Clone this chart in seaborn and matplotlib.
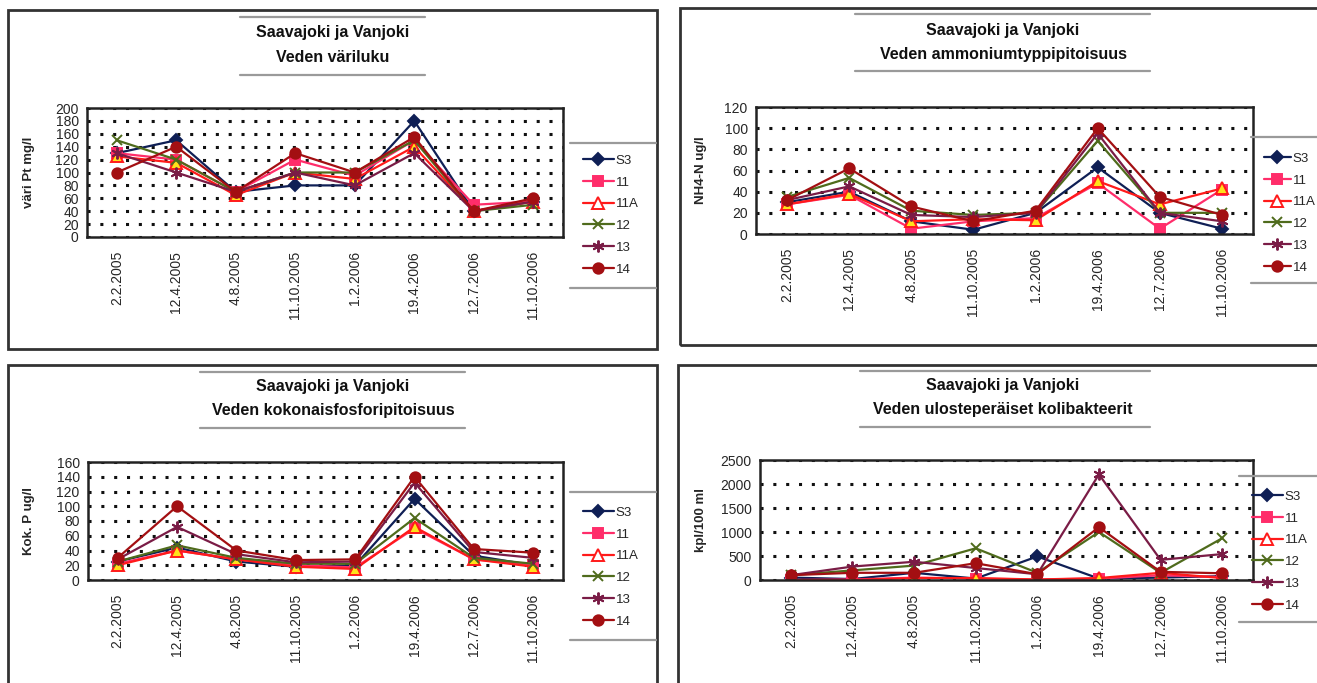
import numpy as np
import pandas as pd
import matplotlib
matplotlib.use("Agg")
import matplotlib.pyplot as plt
from matplotlib.lines import Line2D
from matplotlib.patches import Rectangle
import seaborn as sns

sns.set_theme(style="white")
plt.rcParams["font.family"] = ["Liberation Sans", "DejaVu Sans"]

# Sampling dates and stations
dates = ["2.2.2005", "12.4.2005", "4.8.2005", "11.10.2005",
         "1.2.2006", "19.4.2006", "12.7.2006", "11.10.2006"]
stations = ["S3", "11", "11A", "12", "13", "14"]

# Colour number (Pt mg/l)
vari_S3 = [130, 150, 70, 80, 80, 180, 40, 55]
vari_11 = [130, 120, 70, 120, 95, 150, 50, 55]
vari_11A = [125, 115, 65, 100, 90, 140, 40, 55]
vari_12 = [150, 120, 70, 100, 100, 150, 40, 50]
vari_13 = [130, 100, 70, 100, 80, 130, 40, 55]
vari_14 = [100, 140, 70, 130, 100, 155, 40, 60]

# Ammonium nitrogen (ug/l)
nh4_S3 = [30, 40, 12, 4, 20, 63, 20, 5]
nh4_11 = [28, 37, 5, 12, 15, 48, 5, 42]
nh4_11A = [28, 38, 12, 14, 13, 50, 28, 43]
nh4_12 = [35, 53, 22, 18, 20, 88, 20, 20]
nh4_13 = [32, 45, 18, 16, 20, 95, 20, 12]
nh4_14 = [32, 62, 26, 12, 22, 100, 35, 18]

# Total phosphorus (ug/l)
p_S3 = [25, 44, 25, 18, 20, 110, 33, 20]
p_11 = [22, 40, 28, 20, 17, 70, 28, 20]
p_11A = [20, 40, 28, 18, 15, 72, 28, 18]
p_12 = [25, 47, 30, 22, 22, 84, 30, 22]
p_13 = [28, 72, 35, 24, 25, 132, 38, 30]
p_14 = [30, 100, 40, 27, 28, 140, 42, 37]

# Faecal coliform bacteria (kpl/100 ml)
koli_S3 = [50, 20, 150, 30, 490, 30, 50, 80]
koli_11 = [0, 10, 50, 30, 10, 30, 100, 60]
koli_11A = [0, 0, 40, 40, 10, 40, 150, 40]
koli_12 = [100, 200, 300, 660, 150, 1000, 150, 870]
koli_13 = [100, 280, 380, 250, 120, 2200, 420, 540]
koli_14 = [100, 150, 150, 350, 120, 1100, 170, 140]

W, H = 1317, 683
fig = plt.figure(figsize=(W / 100, H / 100), dpi=100)
fig.patch.set_facecolor("white")

styles = {
    "S3": dict(color="#0f1f55", marker="D", mfc="#0f1f55", mec="#0f1f55", ms=6.5),
    "11": dict(color="#ff2d6a", marker="s", mfc="#ff2d6a", mec="#ff2d6a", ms=7),
    "11A": dict(color="#ff1a1a", marker="^", mfc="#ffe21a", mec="#ff1a1a", ms=8.5),
    "12": dict(color="#4f6b1c", marker="x", mfc="#4f6b1c", mec="#4f6b1c", ms=7.5),
    "13": dict(color="#7a1c46", marker=(6, 2, 0), mfc="#7a1c46", mec="#7a1c46", ms=8.5),
    "14": dict(color="#a30f12", marker="o", mfc="#a30f12", mec="#a30f12", ms=7.5),
}


def px_rect(l, t, r, b):
    return [l / W, 1 - b / H, (r - l) / W, (b - t) / H]


def hline(x0, x1, y, color="#9a9a9a", lw=1.6):
    fig.add_artist(Line2D([x0 / W, x1 / W], [1 - y / H, 1 - y / H],
                          transform=fig.transFigure, color=color, lw=lw))


def panel(box, axrect, title_xy, series, ymax, ystep, ylabel, ylab_x,
          title_lines, leg_xy, leg_lines, handle_len=2.4):
    l, t, r, b = box
    fig.add_artist(Rectangle((l / W, 1 - b / H), (r - l) / W, (b - t) / H,
                             transform=fig.transFigure, fill=False,
                             ec="#333333", lw=2))
    tx, ty = title_xy
    fig.text(tx / W, 1 - ty / H, "Saavajoki ja Vanjoki\n" + title_lines,
             ha="center", va="center", fontsize=11.5, fontweight="bold",
             linespacing=1.75, color="#111111")

    ax = fig.add_axes(px_rect(*axrect))
    x = np.arange(len(dates))
    frame = pd.DataFrame({"x": np.tile(x, len(stations)),
                          "value": np.concatenate(series),
                          "station": np.repeat(stations, len(dates))})
    for st in stations:
        s = styles[st]
        sub = frame[frame["station"] == st]
        sns.lineplot(data=sub, x="x", y="value", ax=ax, color=s["color"],
                     marker=s["marker"], markerfacecolor=s["mfc"],
                     markeredgecolor=s["mec"], markersize=s["ms"],
                     markeredgewidth=1.4, linewidth=1.6, label=st,
                     errorbar=None)
    ax.set_xlim(-0.5, len(dates) - 0.5)
    ax.set_ylim(0, ymax)
    ax.set_yticks(np.arange(0, ymax + 1, ystep))
    ax.set_xticks(x)
    ax.set_xticklabels(dates, rotation=90, fontsize=10)
    ax.tick_params(axis="x", length=0, pad=10)
    ax.tick_params(axis="y", length=0, pad=6, labelsize=10)
    ax.set_xlabel("")
    ax.set_ylabel(ylabel, fontsize=9.5, fontweight="bold")
    ax.yaxis.set_label_coords((ylab_x - axrect[0]) / (axrect[2] - axrect[0]), 0.5)
    ax.grid(axis="y", color="#111111", linestyle=(0, (1, 3.2)), linewidth=2.2)
    ax.grid(axis="x", visible=False)
    for sp in ax.spines.values():
        sp.set_color("#222222")
        sp.set_linewidth(1.8)
    ax.set_facecolor("white")

    lx, ly = leg_xy
    leg = ax.legend(loc="upper left", bbox_to_anchor=(lx / W, 1 - ly / H),
                    bbox_transform=fig.transFigure, frameon=False,
                    fontsize=9.5, handlelength=handle_len, handletextpad=0.1,
                    labelspacing=0.72, borderpad=0)
    leg.legend_handles[2].set_markerfacecolor("white")
    for yy in leg_lines:
        hline(lx - 6, lx + 80, yy)
    return ax


panel((8, 10, 657, 349), (87, 108, 563, 237), (333, 45),
      [vari_S3, vari_11, vari_11A, vari_12, vari_13, vari_14],
      200, 20, "väri Pt mg/l", 35, "Veden väriluku",
      (576, 148), (143, 288))
hline(240, 425, 17)
hline(240, 425, 75)

panel((680, 8, 1322, 345), (756, 107, 1253, 234), (1003, 42),
      [nh4_S3, nh4_11, nh4_11A, nh4_12, nh4_13, nh4_14],
      120, 20, "NH4-N ug/l", 707, "Veden ammoniumtyppipitoisuus",
      (1257, 146), (137, 283), handle_len=2.1)
hline(855, 1150, 14)
hline(855, 1150, 71)

panel((8, 365, 657, 690), (88, 462, 563, 580), (333, 398),
      [p_S3, p_11, p_11A, p_12, p_13, p_14],
      160, 20, "Kok. P ug/l", 35, "Veden kokonaisfosforipitoisuus",
      (576, 500), (492, 640))
hline(200, 465, 372)
hline(200, 465, 428)

panel((678, 365, 1322, 690), (760, 460, 1253, 580), (1003, 397),
      [koli_S3, koli_11, koli_11A, koli_12, koli_13, koli_14],
      2500, 500, "kpl/100 ml", 707, "Veden ulosteperäiset kolibakteerit",
      (1245, 484), (476, 622))
hline(860, 1150, 371)
hline(860, 1150, 427)

fig.savefig("out.png", dpi=100, facecolor="white")
